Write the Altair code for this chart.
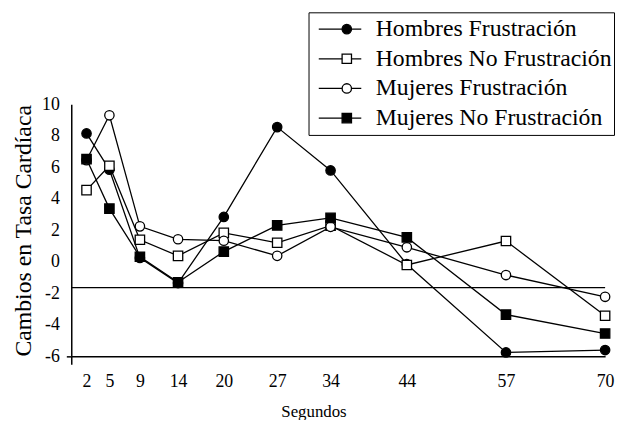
import altair as alt
import pandas as pd

# ---- data ----
segundos = [2, 5, 9, 14, 20, 27, 34, 44, 57, 70]
hombres_frustracion = [8.15, 5.85, 0.25, -1.35, 2.85, 8.55, 5.8, -0.15, -5.75, -5.6]
hombres_no_frustracion = [4.55, 6.1, 1.4, 0.38, 1.84, 1.21, 2.3, -0.2, 1.32, -3.42]
mujeres_frustracion = [6.45, 9.3, 2.25, 1.43, 1.34, 0.38, 2.22, 0.92, -0.84, -2.22]
mujeres_no_frustracion = [6.52, 3.38, 0.32, -1.3, 0.65, 2.31, 2.79, 1.55, -3.35, -4.55]

series = ["Hombres Frustración", "Hombres No Frustración",
          "Mujeres Frustración", "Mujeres No Frustración"]
shapes = ["circle", "square", "circle", "square"]
fills = ["black", "white", "white", "black"]
y_ticks = [-6, -4, -2, 0, 2, 4, 6, 8, 10]
x_ticks = [2, 5, 9, 14, 20, 27, 34, 44, 57, 70]
linea_referencia = [-1.64]

rows = []
for name, vals in zip(series, [hombres_frustracion, hombres_no_frustracion,
                               mujeres_frustracion, mujeres_no_frustracion]):
    for s, v in zip(segundos, vals):
        rows.append({"serie": name, "serie_linea": name, "segundos": s, "cambio": v})
df = pd.DataFrame(rows)
ref_df = pd.DataFrame({"ref": linea_referencia})

FONT = "Liberation Serif"
Y_SCALE = alt.Scale(domain=[-6, 10], nice=False, zero=False)
X_SCALE = alt.Scale(domain=[0, 70], nice=False, zero=False)

x_axis = alt.Axis(
    title="Segundos", values=[0] + x_ticks,
    labelExpr="datum.value == 0 ? '' : '' + datum.value",
    labelFont=FONT, labelFontSize=18, labelColor="black",
    labelPadding=8, labelOverlap=False, labelFlush=False,
    ticks=True, tickSize=8, tickColor="black", tickWidth=1.5,
    tickOpacity={"condition": {"test": "datum.value === 0", "value": 1}, "value": 0},
    domainColor="black", domainWidth=1.5, grid=False,
    titleFont=FONT, titleFontSize=17, titleFontWeight="normal", titleColor="black",
    titleX=245, titleY=61, titleBaseline="alphabetic", titleAlign="center",
)
y_axis = alt.Axis(
    title="Cambios en Tasa Cardíaca", values=y_ticks,
    labelExpr="'' + datum.value",
    labelFont=FONT, labelFontSize=18, labelColor="black",
    labelPadding=7, labelOverlap=False, labelFlush=False,
    ticks=True, tickSize=5, tickColor="black", tickWidth=1.5,
    tickOpacity={"condition": {"test": "datum.value === -6", "value": 1}, "value": 0},
    domainColor="black", domainWidth=1.5, grid=False,
    titleFont=FONT, titleFontSize=24, titleFontWeight="normal", titleColor="black",
    titlePadding=6,
)

lines = alt.Chart(df).mark_line(strokeWidth=1.3).encode(
    x=alt.X("segundos:Q", scale=X_SCALE, axis=x_axis),
    y=alt.Y("cambio:Q", scale=Y_SCALE, axis=y_axis),
    stroke=alt.Stroke(
        "serie_linea:N",
        scale=alt.Scale(range=["black"] * 4),
        legend=alt.Legend(
            title=None, orient="none", legendX=240, legendY=-93,
            symbolType="stroke", symbolSize=1849, symbolStrokeWidth=1.3,
            padding=2.35, symbolOffset=7, labelOffset=13.6,
            labelFont=FONT, labelFontSize=24, labelColor="black", labelLimit=400,
            clipHeight=29.3, rowPadding=-1.4, strokeColor="black",
        ),
    ),
    order=alt.Order("segundos:Q"),
)

rule = alt.Chart(ref_df).mark_rule(color="black", strokeWidth=1.3).encode(
    y=alt.Y("ref:Q", scale=Y_SCALE, axis=y_axis)
)

legend_b = alt.Legend(
    title=None, orient="none", legendX=264.35, legendY=-93,
    symbolSize=90, symbolStrokeColor="black", symbolStrokeWidth=1.3,
    padding=2.35, labelExpr="''", labelFont=FONT, labelFontSize=24, labelLimit=400,
    clipHeight=29.3, rowPadding=-1.4,
)

points = alt.Chart(df).mark_point(filled=True, size=90, stroke="black", strokeWidth=1.3, opacity=1).encode(
    x=alt.X("segundos:Q", scale=X_SCALE, axis=x_axis),
    y=alt.Y("cambio:Q", scale=Y_SCALE, axis=y_axis),
    color=alt.Color("serie:N", scale=alt.Scale(domain=series, range=fills), legend=legend_b),
    shape=alt.Shape("serie:N", scale=alt.Scale(domain=series, range=shapes), legend=legend_b),
)

chart = alt.layer(lines, rule, points).properties(
    width=540, height=255, autosize="none",
    padding={"left": 64, "top": 95, "right": 10, "bottom": 62},
).configure_view(stroke=None)

chart.save("out.html", embed_options={"renderer": "svg", "actions": False})
